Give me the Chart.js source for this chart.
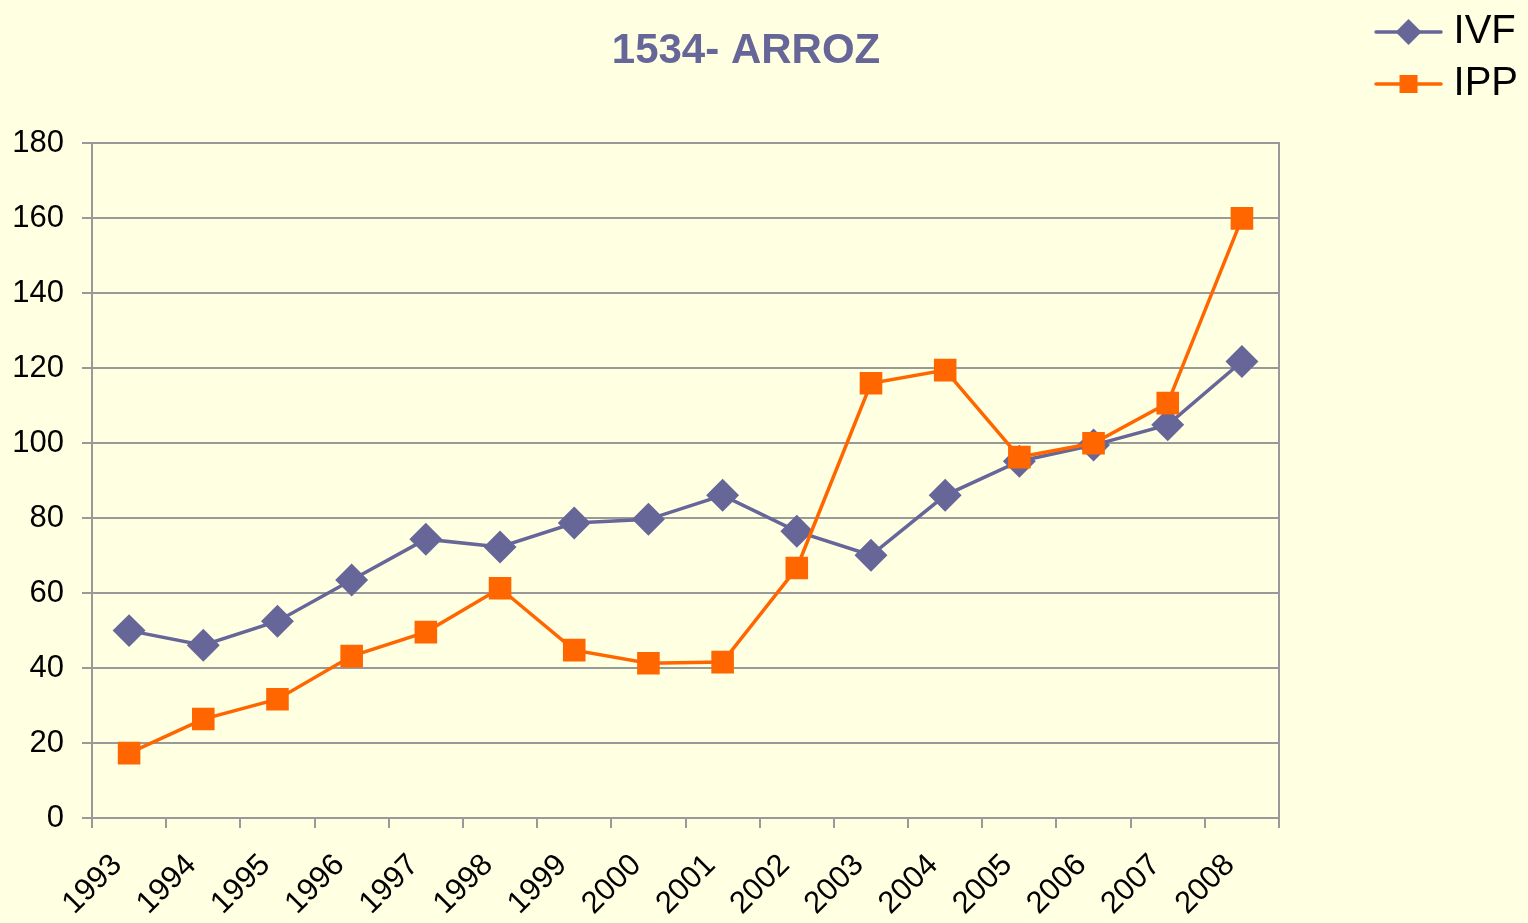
<!DOCTYPE html>
<html>
<head>
<meta charset="utf-8">
<script src="https://cdn.jsdelivr.net/npm/chart.js@4"></script>
<style>
    html, body { margin: 0; padding: 0; background: #FFFFE1; }
    canvas { display: block; }
</style>
</head>
<body>
<canvas id="myChart" width="1528" height="923"></canvas>
<script>
const years = ["1993", "1994", "1995", "1996", "1997", "1998", "1999", "2000",
    "2001", "2002", "2003", "2004", "2005", "2006", "2007", "2008"];
const ivfValues = [50, 46.1, 52.5, 63.5, 74.4, 72.3, 78.7, 79.7, 86.1, 76.5, 70.1, 86.1, 95.2, 99.5, 104.9, 121.8];
const ippValues = [17.3, 26.4, 31.7, 43.2, 49.6, 61.3, 44.8, 41.3, 41.6, 66.7, 116, 119.5, 96.3, 100, 110.7, 160];
const yTicks = [0, 20, 40, 60, 80, 100, 120, 140, 160, 180];

const IVF_COLOR = "#666699";
const IPP_COLOR = "#FF6600";
const GRID_COLOR = "#999999";
const FONT = "'Liberation Sans', Arial, sans-serif";

// Legend symbol: short line with the marker in the middle
function legendSymbol(color, shape) {
    const c = document.createElement("canvas");
    c.width = 69;
    c.height = 30;
    const g = c.getContext("2d");
    g.strokeStyle = color;
    g.lineWidth = 3.5;
    g.lineCap = "round";
    g.beginPath();
    g.moveTo(2, 15);
    g.lineTo(67, 15);
    g.stroke();
    g.fillStyle = color;
    g.beginPath();
    if (shape === "diamond") {
        g.moveTo(34.5, 2);
        g.lineTo(47.5, 15);
        g.lineTo(34.5, 28);
        g.lineTo(21.5, 15);
        g.closePath();
    } else {
        g.rect(25.5, 6, 18, 18);
    }
    g.fill();
    return c;
}

const ivfSymbol = legendSymbol(IVF_COLOR, "diamond");
const ippSymbol = legendSymbol(IPP_COLOR, "square");

const ctx = document.getElementById("myChart");

new Chart(ctx, {
    type: "line",
    data: {
        labels: years,
        datasets: [
            {
                label: "IVF",
                data: ivfValues,
                borderColor: IVF_COLOR,
                backgroundColor: IVF_COLOR,
                borderWidth: 3.5,
                pointStyle: "rectRot",
                pointRadius: 14,
                pointHoverRadius: 14,
                tension: 0,
                order: 1
            },
            {
                label: "IPP",
                data: ippValues,
                borderColor: IPP_COLOR,
                backgroundColor: IPP_COLOR,
                borderWidth: 3.5,
                pointStyle: "rect",
                pointRadius: 13.5,
                pointHoverRadius: 13.5,
                tension: 0,
                order: 0
            }
        ]
    },
    options: {
        responsive: false,
        animation: false,
        layout: {
            padding: { left: -36, right: 0, top: 0, bottom: 0 }
        },
        scales: {
            x: {
                type: "category",
                offset: true,
                grid: {
                    offset: true,
                    drawOnChartArea: false,
                    color: GRID_COLOR,
                    lineWidth: 2,
                    tickLength: 10
                },
                border: { color: GRID_COLOR, width: 2 },
                ticks: {
                    autoSkip: false,
                    maxRotation: 45,
                    minRotation: 45,
                    padding: 19,
                    labelOffset: -12,
                    color: "#000000",
                    font: { family: FONT, size: 31 }
                },
                afterFit: (scale) => { scale.height = 105; }
            },
            y: {
                min: 0,
                max: 180,
                afterBuildTicks: (scale) => {
                    scale.ticks = yTicks.map((v) => ({ value: v }));
                },
                grid: {
                    color: GRID_COLOR,
                    lineWidth: 2,
                    tickLength: 10
                },
                border: { color: GRID_COLOR, width: 2 },
                ticks: {
                    padding: 18,
                    color: "#000000",
                    font: { family: FONT, size: 31 }
                },
                afterFit: (scale) => { scale.width = 128; }
            },
            y2: {
                position: "right",
                min: 0,
                max: 180,
                grid: { display: false },
                ticks: { display: false },
                border: { color: GRID_COLOR, width: 2 },
                afterFit: (scale) => { scale.width = 92.5; }
            }
        },
        plugins: {
            title: {
                display: true,
                text: "1534- ARROZ",
                color: IVF_COLOR,
                font: { family: FONT, size: 42, weight: "bold" },
                padding: { top: 26, bottom: 67 }
            },
            legend: {
                position: "right",
                align: "start",
                labels: {
                    usePointStyle: true,
                    pointStyleWidth: 50,
                    padding: 12,
                    color: "#000000",
                    font: { family: FONT, size: 40 },
                    generateLabels: () => [
                        { text: "IVF", pointStyle: ivfSymbol, datasetIndex: 0, lineWidth: 0, hidden: false },
                        { text: "IPP", pointStyle: ippSymbol, datasetIndex: 1, lineWidth: 0, hidden: false }
                    ]
                }
            },
            tooltip: { enabled: false }
        }
    }
});
</script>
</body>
</html>
